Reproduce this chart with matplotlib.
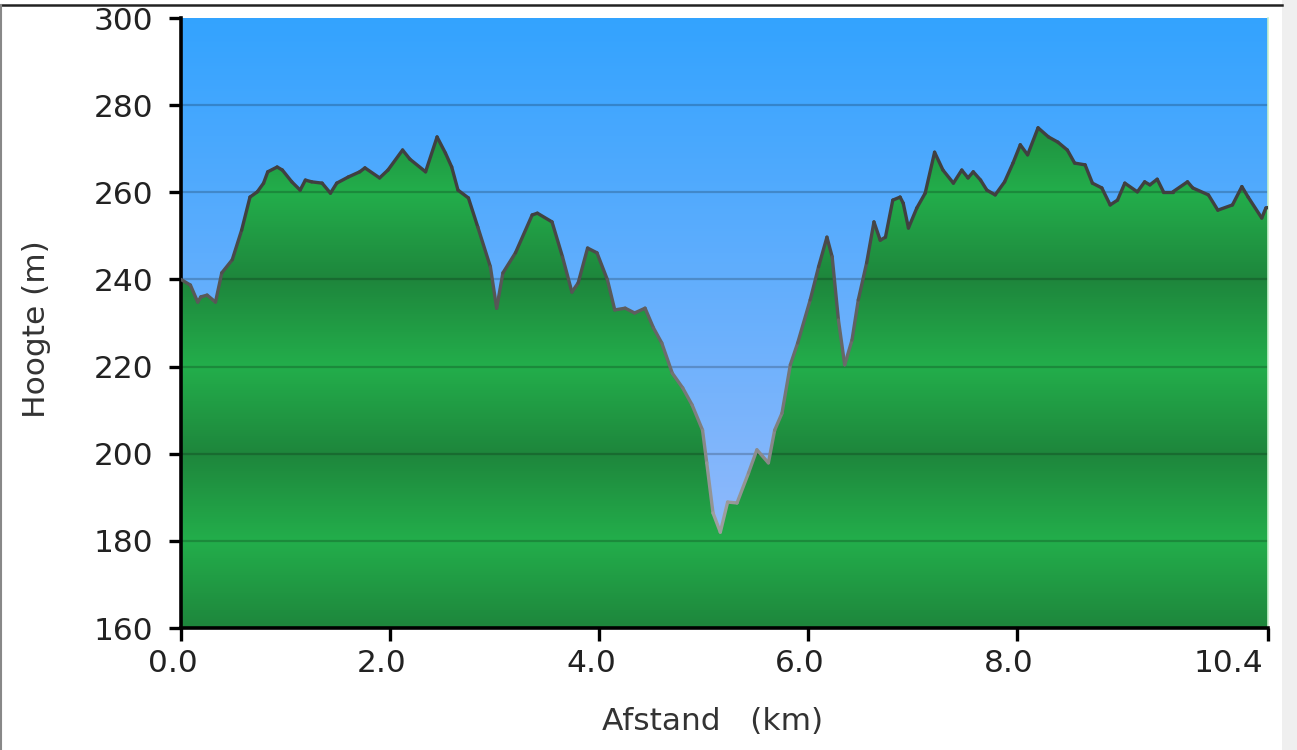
import numpy as np
import matplotlib
matplotlib.use("Agg")
import matplotlib.pyplot as plt
import matplotlib.transforms as mtransforms
from matplotlib.collections import LineCollection
from matplotlib.patches import Polygon, Rectangle
from matplotlib.lines import Line2D

# elevation profile (km, m)
afstand = [0.00, 0.09, 0.16, 0.19, 0.25, 0.33, 0.39, 0.49, 0.58, 0.66,
           0.73, 0.79, 0.83, 0.92, 0.97, 1.06, 1.14, 1.19, 1.25, 1.35,
           1.43, 1.49, 1.60, 1.71, 1.76, 1.90, 1.98, 2.12, 2.19, 2.34,
           2.45, 2.53, 2.59, 2.65, 2.75, 2.84, 2.96, 3.02, 3.08, 3.20,
           3.36, 3.41, 3.55, 3.65, 3.74, 3.80, 3.89, 3.98, 4.08, 4.15,
           4.25, 4.34, 4.44, 4.52, 4.60, 4.70, 4.80, 4.89, 4.99, 5.03,
           5.09, 5.16, 5.23, 5.32, 5.43, 5.51, 5.62, 5.68, 5.75, 5.83,
           5.90, 6.02, 6.10, 6.18, 6.23, 6.29, 6.35, 6.42, 6.48, 6.56,
           6.63, 6.69, 6.74, 6.81, 6.88, 6.91, 6.96, 7.04, 7.12, 7.21,
           7.29, 7.39, 7.47, 7.53, 7.58, 7.65, 7.71, 7.79, 7.88, 7.96,
           8.03, 8.10, 8.20, 8.30, 8.39, 8.48, 8.55, 8.65, 8.72, 8.81,
           8.89, 8.96, 9.03, 9.15, 9.22, 9.27, 9.34, 9.40, 9.49, 9.63,
           9.68, 9.83, 9.92, 10.06, 10.15, 10.21, 10.34, 10.38, 10.40]
hoogte = [240.0, 238.7, 234.8, 236.0, 236.4, 234.8, 241.5, 244.5, 251.3, 258.9,
          260.1, 262.1, 264.7, 265.8, 265.1, 262.4, 260.5, 262.8, 262.4, 262.1,
          259.8, 262.1, 263.5, 264.7, 265.6, 263.3, 265.1, 269.7, 267.6, 264.7,
          272.7, 269.0, 265.8, 260.5, 258.7, 252.0, 242.9, 233.4, 241.5, 246.1,
          254.8, 255.2, 253.2, 245.2, 237.1, 239.2, 247.2, 246.1, 239.9, 233.0,
          233.4, 232.3, 233.4, 228.9, 225.4, 218.5, 215.1, 211.2, 205.4, 197.9,
          186.4, 182.0, 188.9, 188.7, 195.6, 200.9, 197.9, 205.4, 209.3, 220.4,
          225.4, 235.3, 242.9, 249.7, 245.2, 230.7, 220.4, 226.1, 235.3, 243.8,
          253.2, 249.0, 249.7, 258.2, 258.9, 257.5, 251.8, 256.4, 259.8, 269.2,
          265.1, 262.1, 265.1, 263.3, 264.7, 262.8, 260.5, 259.4, 262.4, 266.7,
          270.9, 268.6, 274.8, 272.7, 271.5, 269.7, 266.7, 266.3, 262.1, 261.0,
          257.1, 258.2, 262.1, 260.1, 262.4, 261.7, 263.0, 260.1, 260.1, 262.4,
          261.0, 259.4, 255.9, 257.1, 261.3, 258.9, 254.1, 256.4, 256.5]

x_ticks = [0.0, 2.0, 4.0, 6.0, 8.0, 10.4]
x_labels = ["0.0", "2.0", "4.0", "6.0", "8.0", "10.4"]
y_ticks = [160, 180, 200, 220, 240, 260, 280, 300]

x = np.array(afstand)
y = np.array(hoogte)
ymin, ymax = 160, 300
xmax = 10.4
FS = 22.5

plt.rcParams["font.family"] = ["DejaVu Sans"]
fig = plt.figure(figsize=(12.97, 7.5), dpi=100)
fig.patch.set_facecolor("white")
ax = fig.add_axes([181 / 1297, 1 - 628 / 750, (1268 - 181) / 1297, (628 - 18) / 750])

# sky gradient
rows = np.linspace(0, 1, 400)[:, None]          # 0 = bottom, 1 = top
top = np.array([51, 163, 255]) / 255
bottom = np.array([160, 189, 250]) / 255
sky = bottom + (top - bottom) * rows
sky = np.repeat(sky[:, None, :], 2, axis=1)
ax.imshow(sky, extent=[0, xmax, ymin, ymax], origin="lower", aspect="auto",
          interpolation="bilinear", zorder=0)

# banded green terrain gradient
elev = np.linspace(ymin, ymax, 700)
phase = ((elev - ymin) / 40.0) % 1.0
t = 1 - np.abs(2 * phase - 1)
dark = np.array([30, 134, 60]) / 255
bright = np.array([35, 174, 75]) / 255
green = dark + (bright - dark) * t[:, None]
green = np.repeat(green[:, None, :], 2, axis=1)
img = ax.imshow(green, extent=[0, xmax, ymin, ymax], origin="lower", aspect="auto",
                interpolation="bilinear", zorder=1)
verts = np.column_stack([np.r_[x[0], x, x[-1]], np.r_[ymin, y, ymin]])
terrain = Polygon(verts, closed=True, facecolor="none", edgecolor="none", transform=ax.transData)
ax.add_patch(terrain)
img.set_clip_path(terrain)

# grid lines
for yy in y_ticks[1:-1]:
    ax.axhline(yy, color="black", alpha=0.2, lw=1.6, zorder=2)

# profile outline, lighter at low elevations
pts = np.column_stack([x, y])
segs = np.stack([pts[:-1], pts[1:]], axis=1)
mid = (y[:-1] + y[1:]) / 2
gray = np.interp(mid, [185, 255], [0.62, 0.25])
lc = LineCollection(segs, colors=[(g, g, g) for g in gray], linewidths=2.4, zorder=3,
                    capstyle="round", joinstyle="round")
ax.add_collection(lc)

ax.set_xlim(0, xmax)
ax.set_ylim(ymin, ymax)
ax.set_xticks(x_ticks)
ax.set_xticklabels(x_labels)
ax.set_yticks(y_ticks)
ax.set_yticklabels([str(v) for v in y_ticks])
ax.tick_params(axis="both", direction="out", length=9, width=2.4, color="black",
               labelsize=FS, labelcolor="#222222")
ax.tick_params(axis="y", pad=11)
ax.tick_params(axis="x", pad=6)

# x labels sit a little left of their ticks; last one ends near the axis edge
shift = mtransforms.ScaledTranslation(-8 / 100, 0, fig.dpi_scale_trans)
xlabels = ax.get_xticklabels()
for lab in xlabels:
    lab.set_transform(lab.get_transform() + shift)
xlabels[-1].set_horizontalalignment("right")
xlabels[-1].set_transform(xlabels[-1].get_transform()
                          + mtransforms.ScaledTranslation(3 / 100, 0, fig.dpi_scale_trans))

ax.spines["top"].set_visible(False)
ax.spines["right"].set_color("#c8f0cc")
ax.spines["right"].set_linewidth(1.2)
for side in ["left", "bottom"]:
    ax.spines[side].set_linewidth(2.6)
    ax.spines[side].set_color("black")

fig.text(37 / 1297, 1 - 329 / 750, "Hoogte (m)", rotation=90, ha="center", va="center",
         fontsize=FS, color="#333333")
fig.text(713 / 1297, 1 - 722 / 750, "Afstand   (km)", ha="center", va="center",
         fontsize=FS, color="#333333")

# page frame
fig.add_artist(Rectangle((1282 / 1297, 0), 15 / 1297, 1, transform=fig.transFigure,
                         facecolor="#efefef", edgecolor="none", zorder=-1))
fig.add_artist(Line2D([0, 1282 / 1297], [1 - 5 / 750] * 2, transform=fig.transFigure,
                      color="#222222", lw=1.8))
fig.add_artist(Line2D([1 / 1297] * 2, [0, 1 - 5 / 750], transform=fig.transFigure,
                      color="#888888", lw=1.5))

fig.savefig("out.png", dpi=100)
